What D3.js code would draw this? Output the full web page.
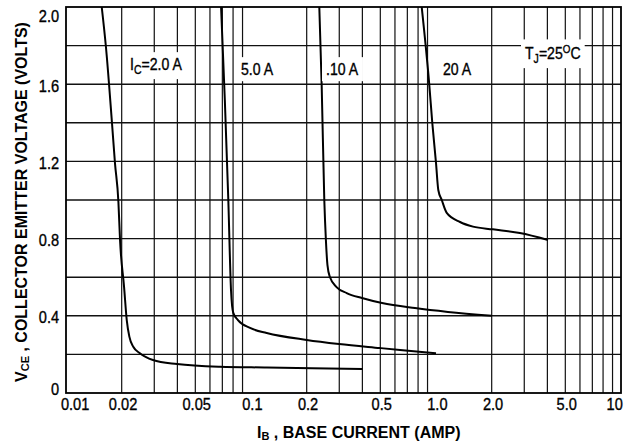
<!DOCTYPE html>
<html>
<head>
<meta charset="utf-8">
<script src="https://cdn.jsdelivr.net/npm/d3@7"></script>
<style>
  html, body { margin: 0; padding: 0; background: #fff; }
  svg { display: block; }
  text { font-family: "Liberation Sans", Arial, Helvetica, sans-serif; fill: #000; }
  .heavy { stroke: #000; stroke-width: 0.35px; }
</style>
</head>
<body>
<div id="chart"></div>
<script>
// ---- data ----
const xTicks = [0.01, 0.02, 0.05, 0.1, 0.2, 0.5, 1, 2, 5, 10];
const xTickLabels = ["0.01", "0.02", "0.05", "0.1", "0.2", "0.5", "1.0", "2.0", "5.0", "10"];
const yTicks = [0, 0.4, 0.8, 1.2, 1.6, 2.0];
const yTickLabels = ["0", "0.4", "0.8", "1.2", "1.6", "2.0"];
const yGrid = [0.2, 0.4, 0.6, 0.8, 1.0, 1.2, 1.4, 1.6, 1.8];

const seriesNames = ["2.0 A", "5.0 A", "10 A", "20 A"];

const ib2A  = [0.0156, 0.01645, 0.01774, 0.0184, 0.0192, 0.0196, 0.0206, 0.0213, 0.0220, 0.0231, 0.0251, 0.0295, 0.0398, 0.068, 0.122, 0.4];
const vce2A = [2.0, 1.79, 1.394, 1.19, 0.99, 0.79, 0.55, 0.378, 0.292, 0.24, 0.206, 0.171, 0.150, 0.136, 0.132, 0.124];

const ib5A  = [0.0689, 0.0722, 0.0754, 0.078, 0.0802, 0.085, 0.0988, 0.1216, 0.2, 0.299, 0.498, 0.639, 1.0];
const vce5A = [2.0, 1.518, 1.0, 0.53, 0.415, 0.378, 0.337, 0.311, 0.275, 0.254, 0.233, 0.223, 0.206];

const ib10A  = [0.234, 0.241, 0.249, 0.254, 0.259, 0.267, 0.29, 0.329, 0.398, 0.511, 0.77, 1.16, 2.0];
const vce10A = [2.0, 1.596, 1.0, 0.793, 0.663, 0.601, 0.549, 0.518, 0.492, 0.466, 0.44, 0.42, 0.40];

const ib20A  = [0.837, 0.92, 0.955, 1.0, 1.029, 1.074, 1.143, 1.349, 1.585, 2.03, 2.84, 4.03];
const vce20A = [2.0, 1.596, 1.399, 1.192, 1.052, 1.0, 0.933, 0.886, 0.862, 0.848, 0.829, 0.793];

// ---- layout ----
const W = 635, H = 446;
const m = { left: 66, top: 7, right: 14, bottom: 53 };
const pw = W - m.left - m.right, ph = H - m.top - m.bottom;

const svg = d3.select("#chart").append("svg").attr("width", W).attr("height", H);
const g = svg.append("g").attr("transform", `translate(${m.left},${m.top})`);

const x = d3.scaleLog().domain([0.01, 10]).range([0, pw]);
const y = d3.scaleLinear().domain([0, 2.0]).range([ph, 0]);

// vertical grid: 2..9 of every decade
const xGrid = [];
[0.01, 0.1, 1].forEach(dec => { for (let k = 2; k <= 9; k++) xGrid.push(+(k * dec).toPrecision(3)); });
g.append("g").selectAll("line").data(xGrid).join("line")
  .attr("x1", d => x(d)).attr("x2", d => x(d))
  .attr("y1", 0).attr("y2", ph)
  .attr("stroke", "#111").attr("stroke-width", 1.2);

g.append("g").selectAll("line").data(yGrid).join("line")
  .attr("x1", 0).attr("x2", pw)
  .attr("y1", d => y(d)).attr("y2", d => y(d))
  .attr("stroke", "#111").attr("stroke-width", 1.4);

// frame
g.append("rect").attr("x", 0).attr("y", 0).attr("width", pw).attr("height", ph)
  .attr("fill", "none").attr("stroke", "#000").attr("stroke-width", 1.8);

// axes
const xAxis = g.append("g").attr("transform", `translate(0,${ph})`)
  .call(d3.axisBottom(x).tickValues(xTicks).tickFormat((d, i) => xTickLabels[i]).tickSize(0).tickPadding(5));
xAxis.select(".domain").remove();
xAxis.selectAll("text").attr("class", "heavy").attr("font-size", 17).attr("transform", "scale(0.86,1)")
  .attr("dx", (d, i) => i === 0 ? 10 : (i === xTicks.length - 1 ? -8 : 1));

const yAxis = g.append("g")
  .call(d3.axisLeft(y).tickValues(yTicks).tickFormat((d, i) => yTickLabels[i]).tickSize(0).tickPadding(8));
yAxis.select(".domain").remove();
yAxis.selectAll("text").attr("class", "heavy").attr("font-size", 17).attr("transform", "scale(0.86,1)")
  .attr("dy", d => d === 2.0 ? "0.85em" : (d === 0 ? "0.1em" : "0.42em"));

// curve labels (absolute page coordinates), on white boxes that break the grid
const labelLayer = svg.append("g");
function label(px, py, parts, size) {
  const grp = labelLayer.append("g");
  const bg = grp.append("rect").attr("fill", "#fff");
  const t = grp.append("text").attr("class", "heavy")
    .attr("transform", `translate(${px},${py}) scale(0.88,1)`)
    .attr("font-size", size);
  parts.forEach(p => {
    const s = t.append("tspan").text(p.t);
    if (p.sub) s.attr("font-size", size * 0.75).attr("dy", 4);
    if (p.sup) s.attr("font-size", size * 0.7).attr("dy", -6);
    if (p.back) s.attr("dy", p.back);
  });
  const b = t.node().getBBox();
  const sx = 0.88;
  bg.attr("x", px + b.x * sx - 4).attr("y", py + b.y - 3)
    .attr("width", b.width * sx + 8).attr("height", b.height + 6);
  return t;
}

// curves
const line = d3.line().x(d => x(d[0])).y(d => y(d[1])).curve(d3.curveMonotoneX);
const series = [
  d3.zip(ib2A, vce2A), d3.zip(ib5A, vce5A), d3.zip(ib10A, vce10A), d3.zip(ib20A, vce20A)
];

label(130, 70, [{ t: "I" }, { t: "C", sub: true }, { t: "=2.0 A", back: -4 }], 16);
label(241, 75, [{ t: seriesNames[1] }], 16);
label(326, 75, [{ t: "." + seriesNames[2] }], 16);
label(443, 75, [{ t: seriesNames[3] }], 16);
label(525, 59, [{ t: "T" }, { t: "J", sub: true }, { t: "=25", back: -4 }, { t: "O", sup: true }, { t: "C", back: 6 }], 16);

g.append("g").selectAll("path").data(series).join("path")
  .attr("d", line).attr("fill", "none").attr("stroke", "#000")
  .attr("stroke-width", 2).attr("stroke-linejoin", "round");

// axis titles
const xt = svg.append("text").attr("x", 257).attr("y", 438).attr("font-size", 16).attr("font-weight", "bold");
xt.append("tspan").text("I");
xt.append("tspan").text("B").attr("font-size", 11).attr("dy", 2);
xt.append("tspan").text(" , BASE CURRENT (AMP)").attr("dy", -2);

const yt = svg.append("text").attr("transform", "translate(27,202) rotate(-90)")
  .attr("text-anchor", "middle").attr("font-size", 16).attr("font-weight", "bold");
yt.append("tspan").text("V");
yt.append("tspan").text("CE").attr("font-size", 11).attr("dy", 2);
yt.append("tspan").text(" , COLLECTOR EMITTER VOLTAGE (VOLTS)").attr("dy", -2);
</script>
</body>
</html>
